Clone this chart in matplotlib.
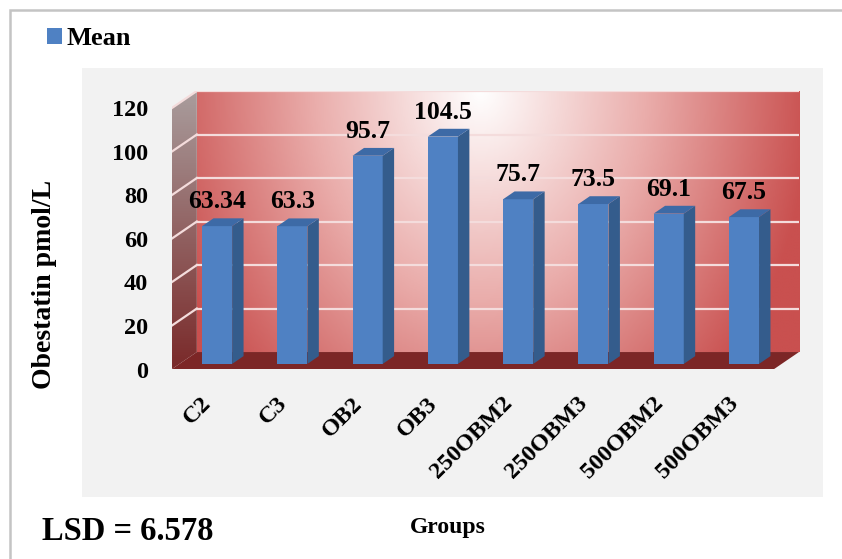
import numpy as np
import matplotlib
matplotlib.use("Agg")
import matplotlib.pyplot as plt
import matplotlib.transforms as mtransforms
from matplotlib.patches import Polygon, Rectangle
from matplotlib.colors import LinearSegmentedColormap

# data
groups = ["C2", "C3", "OB2", "OB3", "250OBM2", "250OBM3", "500OBM2", "500OBM3"]
means = [63.34, 63.3, 95.7, 104.5, 75.7, 73.5, 69.1, 67.5]
mean_labels = ["63.34", "63.3", "95.7", "104.5", "75.7", "73.5", "69.1", "67.5"]
yticks = [0, 20, 40, 60, 80, 100, 120]
lsd = 6.578

plt.rcParams['font.family'] = ['Liberation Serif', 'DejaVu Serif']
plt.rcParams['font.weight'] = 'bold'

W, H = 842, 559
fig = plt.figure(figsize=(W / 100, H / 100), dpi=100)


def box(x0, y0, w, h):
    # pixel box measured from top-left -> figure fraction
    return [x0 / W, 1 - (y0 + h) / H, w / W, h / H]


# outer frame and grey chart area
fig.add_artist(Rectangle((10 / W, -0.1), 1.2, 1 - 10 / H + 0.1, transform=fig.transFigure,
                         fill=False, ec='#c4c4c4', lw=1.8, zorder=-2))
fig.add_artist(Rectangle(box(82, 68, 741, 429)[:2], 741 / W, 429 / H, transform=fig.transFigure,
                         fc='#f2f2f2', ec='none', zorder=-1))

# 3d look: depth offset of the front plane (x in categories, y in value units)
DX, DY = -0.33, -7.8
FD, BD = 0.70, 0.24   # bar front / back depth fractions
bw = 0.4

ax = fig.add_axes(box(172, 91, 627, 278))
ax.axis('off')

# back wall gradient
gx, gy = np.meshgrid(np.linspace(0, 1, 400), np.linspace(0, 1, 150))
r = np.clip(np.sqrt(((gx - 0.47) / 0.55) ** 2 + ((1 - gy) / 1.6) ** 2), 0, 1)
wall_cmap = LinearSegmentedColormap.from_list('wall', ['#ffffff', '#eaadab', '#c9504f'])
ax.imshow(r, cmap=wall_cmap, vmin=0, vmax=1, extent=(-0.5, 7.5, 0, 120),
          origin='lower', aspect='auto', zorder=0, interpolation='bilinear')

# left side wall
side = Polygon([(-0.5, 0), (-0.5, 120), (-0.5 + DX, 120 + DY), (-0.5 + DX, DY)],
               closed=True, fc='none', ec='none')
ax.add_patch(side)
side_cmap = LinearSegmentedColormap.from_list('side', ['#7a2a2a', '#a99c9c'])
sim = ax.imshow(np.linspace(0, 1, 100).reshape(-1, 1), cmap=side_cmap,
                extent=(-0.5 + DX, -0.5, DY, 120), origin='lower', aspect='auto',
                zorder=0, interpolation='bilinear')
sim.set_clip_path(side)

# floor
ax.add_patch(Polygon([(-0.5, 0), (7.5, 0), (7.5 + DX, DY), (-0.5 + DX, DY)],
                     closed=True, fc='#7c2626', ec='none', zorder=1))

# gridlines on walls
for v in yticks[1:]:
    ax.plot([-0.5, 7.5], [v, v], color='#f4dcdc', lw=1.6, zorder=1)
    ax.plot([-0.5 + DX, -0.5], [v + DY, v], color='#f4dcdc', lw=1.6, zorder=1)

# bars: front faces through ax.bar, side and top faces from the same values
x = np.arange(len(groups))
bars = ax.bar(x + FD * DX, means, width=bw, bottom=FD * DY, color='#4f81c3',
              zorder=3, label='Mean')
for i, v in enumerate(means):
    xl_f = i + FD * DX - bw / 2
    xr_f = i + FD * DX + bw / 2
    xl_b = i + BD * DX - bw / 2
    xr_b = i + BD * DX + bw / 2
    ax.add_patch(Polygon([(xr_f, FD * DY), (xr_f, v + FD * DY), (xr_b, v + BD * DY), (xr_b, BD * DY)],
                         closed=True, fc='#345c8c', ec='none', zorder=3))
    ax.add_patch(Polygon([(xl_f, v + FD * DY), (xr_f, v + FD * DY), (xr_b, v + BD * DY), (xl_b, v + BD * DY)],
                         closed=True, fc='#3d6aa6', ec='none', zorder=3))
    ax.text(i + FD * DX, v + BD * DY, mean_labels[i], ha='center', va='bottom', fontsize=18.5,
            transform=mtransforms.offset_copy(ax.transData, fig, y=5, units='dots'), zorder=5)

ax.set_xlim(-0.5 + DX, 7.5)
ax.set_ylim(DY, 120)

# tick labels on the front plane
for v in yticks:
    ax.text(-0.5 + DX, v + DY, str(v), ha='right', va='center', fontsize=17.5,
            transform=mtransforms.offset_copy(ax.transData, fig, x=-24, y=-3, units='dots'))
for i, g in enumerate(groups):
    ax.text(i + DX, DY, g, ha='right', va='top', rotation=45, fontsize=17.5,
            transform=mtransforms.offset_copy(ax.transData, fig, x=6, y=-24, units='dots'))

# titles
fig.text(45 / W, 1 - 284 / H, 'Obestatin pmol/L', rotation=90, ha='center', va='center', fontsize=20)
fig.text(448 / W, 1 - 527 / H, 'Groups', ha='center', va='center', fontsize=17)
fig.text(42 / W, 1 - 532 / H, 'LSD = ' + str(lsd), ha='left', va='center', fontsize=23.5)

fig.legend(handles=[bars], labels=['Mean'], loc='upper left', bbox_to_anchor=(47 / W, 1 - 27 / H),
           bbox_transform=fig.transFigure, frameon=False, fontsize=19, borderpad=0,
           borderaxespad=0, handlelength=0.55, handleheight=0.55, handletextpad=0.2)

fig.savefig('out.png', dpi=100, facecolor='white')
